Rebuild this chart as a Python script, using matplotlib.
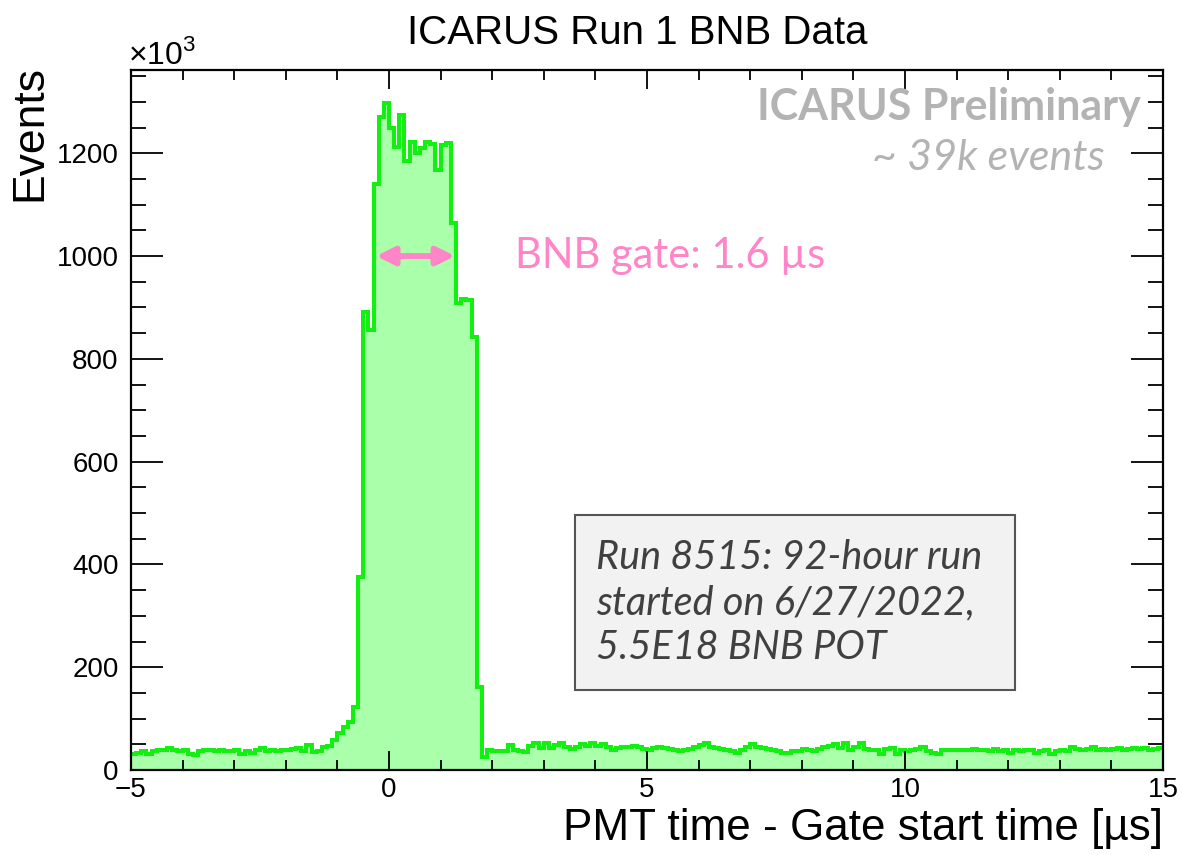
import numpy as np
import matplotlib
matplotlib.use("Agg")
import matplotlib.pyplot as plt
from matplotlib.patches import Rectangle

plt.rcParams['font.family'] = ['Liberation Sans', 'DejaVu Sans']
plt.rcParams['mathtext.fontset'] = 'custom'
plt.rcParams['mathtext.rm'] = 'Liberation Sans'

# histogram definition: 200 bins of 0.1 us
x_min, x_max, n_bins = -5.0, 15.0, 200

# events per bin (x10^3)
counts = [
    32, 33, 36, 32, 37, 39, 39, 43, 39, 36,
    39, 32, 30, 36, 38, 38, 36, 39, 37, 36,
    38, 32, 36, 34, 39, 42, 36, 39, 36, 39,
    38, 41, 42, 36, 49, 35, 36, 45, 46, 58,
    72, 84, 93, 123, 375, 891, 856, 1140, 1270, 1298,
    1249, 1212, 1274, 1185, 1222, 1200, 1210, 1222, 1218, 1167,
    1216, 1220, 1064, 909, 916, 914, 842, 161, 26, 39,
    37, 37, 37, 49, 39, 37, 35, 47, 52, 42,
    52, 42, 49, 52, 45, 40, 44, 50, 46, 52,
    46, 51, 44, 38, 42, 44, 45, 46, 45, 40,
    39, 42, 44, 43, 41, 39, 37, 38, 41, 44,
    48, 52, 45, 42, 40, 38, 36, 34, 38, 44,
    50, 45, 42, 40, 38, 36, 34, 33, 36, 37,
    40, 38, 36, 40, 44, 46, 50, 43, 53, 39,
    45, 52, 40, 38, 38, 32, 40, 42, 32, 39,
    36, 39, 40, 44, 36, 34, 32, 39, 38, 38,
    38, 38, 39, 40, 39, 38, 36, 41, 37, 39,
    33, 38, 36, 39, 38, 34, 36, 38, 32, 36,
    39, 37, 44, 41, 38, 40, 44, 38, 41, 38,
    40, 43, 38, 40, 42, 40, 43, 38, 40, 42,
]

gate_start, gate_end, gate_level = -0.25, 1.28, 1000
x_ticks = [-5, 0, 5, 10, 15]
x_tick_labels = ['\u22125', '0', '5', '10', '15']
y_ticks = [0, 200, 400, 600, 800, 1000, 1200]

edges = np.linspace(x_min, x_max, n_bins + 1)
counts = np.array(counts)

fig = plt.figure(figsize=(11.83, 8.55), dpi=100)
ax = fig.add_axes([131/1183, 1 - 770/855, 1032/1183, 700/855])

ax.stairs(counts, edges, fill=True, color='#aaffaa', baseline=0)
ax.stairs(counts, edges, color='#11f011', lw=2.9, baseline=None)

ax.set_xlim(x_min, x_max)
ax.set_ylim(0, 1362)
ax.set_xticks(x_ticks)
ax.set_yticks(y_ticks)
ax.set_xticks(np.arange(-5, 16, 1), minor=True)
ax.set_yticks(np.arange(0, 1362, 50), minor=True)
ax.tick_params(axis='both', which='both', direction='in', top=True, right=True,
               width=1.3, labelsize=20)
ax.tick_params(axis='x', which='major', length=14, pad=5)
ax.tick_params(axis='x', which='minor', length=7)
ax.tick_params(axis='y', which='major', length=23, pad=9)
ax.tick_params(axis='y', which='minor', length=11)
ax.set_xticklabels(x_tick_labels)
for s in ax.spines.values():
    s.set_linewidth(1.6)

# gate arrow
ax.annotate('', xy=(gate_end, gate_level), xytext=(gate_start, gate_level),
            arrowprops=dict(arrowstyle='<|-|>', color='#ff85c8', lw=4.2,
                            mutation_scale=27, shrinkA=0, shrinkB=0))
ax.text(2.44, gate_level, 'BNB gate: 1.6 \u00b5s', color='#ff85c8', fontsize=30,
        family=['Lato', 'DejaVu Sans'], ha='left', va='center')

ax.text(0.978, 0.947, 'ICARUS Preliminary', transform=ax.transAxes, ha='right',
        va='center', fontsize=31, fontweight='bold', color='#b3b3b3',
        family=['Lato', 'DejaVu Sans'])
ax.text(0.944, 0.874, '~ 39k events', transform=ax.transAxes, ha='right',
        va='center', fontsize=31, style='italic', color='#b3b3b3',
        family=['Lato', 'DejaVu Sans'])

# info box
ax.add_patch(Rectangle((0.430, 0.114), 0.427, 0.250, transform=ax.transAxes,
                       facecolor='#f2f2f2', edgecolor='#555555', lw=1.5, zorder=3))
ax.text(0.451, 0.239, 'Run 8515: 92-hour run\nstarted on 6/27/2022,\n5.5E18 BNB POT',
        transform=ax.transAxes, ha='left', va='center', fontsize=28.5,
        style='italic', color='#404040', linespacing=1.26,
        family=['Lato', 'DejaVu Sans'], zorder=4)

fig.text(637/1183, 1 - 33/855, 'ICARUS Run 1 BNB Data', ha='center', va='center',
         fontsize=29)
fig.text(128/1183, 1 - 55/855, r'$\times$10$^{3}$', ha='left', va='center',
         fontsize=23)
fig.text(30/1183, 1 - 65/855, 'Events', rotation=90, ha='center', va='top',
         fontsize=32)
fig.text(1163/1183, 1 - 828/855, 'PMT time - Gate start time [\u00b5s]', ha='right',
         va='center', fontsize=31.7)

fig.savefig('out.png', dpi=100)
